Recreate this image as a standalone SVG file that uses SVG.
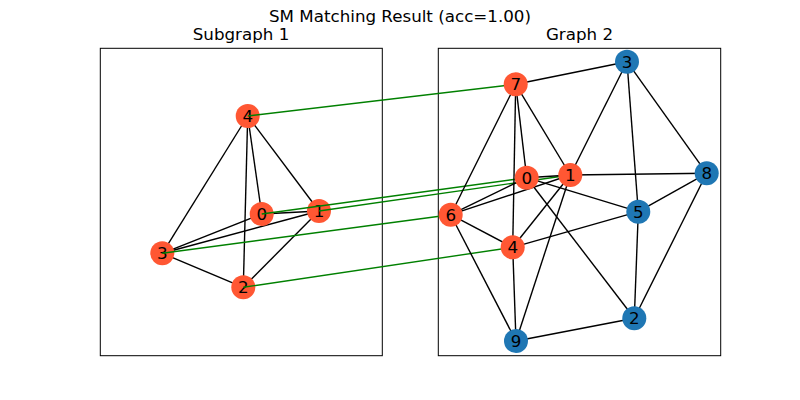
<svg xmlns="http://www.w3.org/2000/svg" width="800" height="400" viewBox="0 0 800 400">
<style>
.t{font-family:"DejaVu Sans",sans-serif;font-size:16.7px;fill:#000;text-anchor:middle}
.lbl{font-family:"DejaVu Sans",sans-serif;font-size:16.7px;fill:#000;text-anchor:middle;dominant-baseline:central}
.ax{fill:#fff;stroke:#000;stroke-width:1}
.e{stroke:#000;stroke-width:1.4;fill:none}
.m{stroke:#008000;stroke-width:1.4;fill:none}
.o{fill:#FF5733}
.b{fill:#1F77B4}
</style>
<rect width="800" height="400" fill="#fff"/>
<text class="t" x="400" y="22">SM Matching Result (acc=1.00)</text>
<text class="t" x="241" y="40">Subgraph 1</text>
<text class="t" x="579.5" y="40">Graph 2</text>
<rect class="ax" x="100.3" y="48.3" width="282" height="307.4"/>
<rect class="ax" x="438.3" y="48.3" width="282.4" height="307.4"/>
<g id="edges-left">
<line class="e" x1="247.7" y1="116" x2="162.3" y2="253.3"/>
<line class="e" x1="247.7" y1="116" x2="261.7" y2="214"/>
<line class="e" x1="247.7" y1="116" x2="243.3" y2="287.3"/>
<line class="e" x1="247.7" y1="116" x2="319" y2="211"/>
<line class="e" x1="261.7" y1="214" x2="319" y2="211"/>
<line class="e" x1="261.7" y1="214" x2="162.3" y2="253.3"/>
<line class="e" x1="319" y1="211" x2="162.3" y2="253.3"/>
<line class="e" x1="162.3" y1="253.3" x2="243.3" y2="287.3"/>
<line class="e" x1="243.3" y1="287.3" x2="319" y2="211"/>
</g>
<g id="left-node-4"><circle class="o" cx="247.7" cy="116" r="12"/><text class="lbl" x="247.7" y="116">4</text></g>
<g id="left-node-0"><circle class="o" cx="261.7" cy="214" r="12"/><text class="lbl" x="261.7" y="214">0</text></g>
<g id="left-node-1"><circle class="o" cx="319" cy="211" r="12"/><text class="lbl" x="319" y="211">1</text></g>
<g id="left-node-3"><circle class="o" cx="162.3" cy="253.3" r="12"/><text class="lbl" x="162.3" y="253.3">3</text></g>
<g id="left-node-2"><circle class="o" cx="243.3" cy="287.3" r="12"/><text class="lbl" x="243.3" y="287.3">2</text></g>
<g id="matches">
<line class="m" x1="247.7" y1="116" x2="515.7" y2="84.3"/>
<line class="m" x1="261.7" y1="214" x2="526.7" y2="177.7"/>
<line class="m" x1="319" y1="211" x2="570.3" y2="175"/>
<line class="m" x1="162.3" y1="253.3" x2="450.7" y2="214.7"/>
<line class="m" x1="243.3" y1="287.3" x2="512.7" y2="247.3"/>
</g>
<g id="edges-right">
<line class="e" x1="515.7" y1="84.3" x2="627" y2="61.7"/>
<line class="e" x1="515.7" y1="84.3" x2="450.7" y2="214.7"/>
<line class="e" x1="515.7" y1="84.3" x2="526.7" y2="177.7"/>
<line class="e" x1="515.7" y1="84.3" x2="512.7" y2="247.3"/>
<line class="e" x1="515.7" y1="84.3" x2="570.3" y2="175"/>
<line class="e" x1="627" y1="61.7" x2="570.3" y2="175"/>
<line class="e" x1="627" y1="61.7" x2="638.3" y2="211.7"/>
<line class="e" x1="627" y1="61.7" x2="706.7" y2="173.3"/>
<line class="e" x1="526.7" y1="177.7" x2="570.3" y2="175"/>
<line class="e" x1="570.3" y1="175" x2="706.7" y2="173.3"/>
<line class="e" x1="526.7" y1="177.7" x2="450.7" y2="214.7"/>
<line class="e" x1="570.3" y1="175" x2="450.7" y2="214.7"/>
<line class="e" x1="526.7" y1="177.7" x2="638.3" y2="211.7"/>
<line class="e" x1="526.7" y1="177.7" x2="634.3" y2="318.3"/>
<line class="e" x1="570.3" y1="175" x2="512.7" y2="247.3"/>
<line class="e" x1="570.3" y1="175" x2="516" y2="341"/>
<line class="e" x1="450.7" y1="214.7" x2="512.7" y2="247.3"/>
<line class="e" x1="450.7" y1="214.7" x2="516" y2="341"/>
<line class="e" x1="512.7" y1="247.3" x2="638.3" y2="211.7"/>
<line class="e" x1="512.7" y1="247.3" x2="516" y2="341"/>
<line class="e" x1="706.7" y1="173.3" x2="638.3" y2="211.7"/>
<line class="e" x1="706.7" y1="173.3" x2="634.3" y2="318.3"/>
<line class="e" x1="638.3" y1="211.7" x2="634.3" y2="318.3"/>
<line class="e" x1="516" y1="341" x2="634.3" y2="318.3"/>
</g>
<g id="right-node-7"><circle class="o" cx="515.7" cy="84.3" r="12"/><text class="lbl" x="515.7" y="84.3">7</text></g>
<g id="right-node-3"><circle class="b" cx="627" cy="61.7" r="12"/><text class="lbl" x="627" y="61.7">3</text></g>
<g id="right-node-0"><circle class="o" cx="526.7" cy="177.7" r="12"/><text class="lbl" x="526.7" y="177.7">0</text></g>
<g id="right-node-1"><circle class="o" cx="570.3" cy="175" r="12"/><text class="lbl" x="570.3" y="175">1</text></g>
<g id="right-node-8"><circle class="b" cx="706.7" cy="173.3" r="12"/><text class="lbl" x="706.7" y="173.3">8</text></g>
<g id="right-node-6"><circle class="o" cx="450.7" cy="214.7" r="12"/><text class="lbl" x="450.7" y="214.7">6</text></g>
<g id="right-node-5"><circle class="b" cx="638.3" cy="211.7" r="12"/><text class="lbl" x="638.3" y="211.7">5</text></g>
<g id="right-node-4"><circle class="o" cx="512.7" cy="247.3" r="12"/><text class="lbl" x="512.7" y="247.3">4</text></g>
<g id="right-node-2"><circle class="b" cx="634.3" cy="318.3" r="12"/><text class="lbl" x="634.3" y="318.3">2</text></g>
<g id="right-node-9"><circle class="b" cx="516" cy="341" r="12"/><text class="lbl" x="516" y="341">9</text></g>
</svg>
